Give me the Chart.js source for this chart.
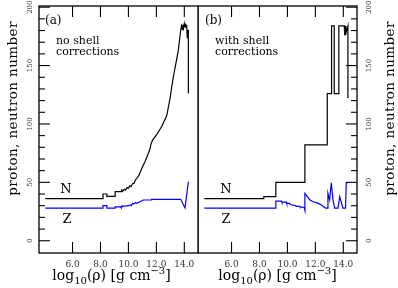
<!DOCTYPE html>
<html>
<head>
<meta charset="utf-8">
<script src="https://cdn.jsdelivr.net/npm/chart.js@4"></script>
<style>
  body { margin: 0; background: #fff; }
  #wrap { position: relative; width: 398px; height: 288px; overflow: hidden; }
  canvas { position: absolute; top: 0; }
</style>
</head>
<body>
<div id="wrap">
  <canvas id="panelA" width="199" height="288" style="left:0"></canvas>
  <canvas id="panelB" width="200" height="288" style="left:198px"></canvas>
</div>
<script>
// tick labels
const xTicks = [6, 8, 10, 12, 14];
const yTicks = [0, 50, 100, 150, 200];
const yMinorTicks = [10, 20, 30, 40, 60, 70, 80, 90, 110, 120, 130, 140, 160, 170, 180, 190];

// (a) no shell corrections
const rhoNa = [4.05, 8.18, 8.18, 8.46, 8.46, 9.05, 9.05, 9.5, 9.52, 9.6, 9.7, 9.8, 9.9, 10.0, 10.1, 10.2, 10.3, 10.4, 10.5, 10.6, 10.75, 10.96, 11.2, 11.4, 11.55, 11.62, 11.72, 12.03, 12.39, 12.74, 12.98, 13.21, 13.45, 13.57, 13.74, 13.8, 13.86, 13.9, 13.95, 14.0, 14.05, 14.1, 14.17, 14.21, 14.25, 14.29, 14.29];
const neutronA = [36, 36, 40, 40, 38, 38, 42, 42, 43.5, 42.5, 44, 43.5, 45.5, 45, 47, 46.5, 49, 49, 52, 53.5, 56, 62, 68, 74, 79, 83, 86, 91, 98, 107, 122, 140, 155, 163, 180, 184, 181, 185, 182, 186, 183, 185, 184, 174, 180, 180, 126];
const rhoZa = [4.05, 8.18, 8.18, 8.46, 8.46, 9.05, 9.05, 9.45, 9.5, 9.55, 9.6, 10.0, 10.12, 10.2, 10.3, 10.36, 10.5, 10.6, 10.83, 11.07, 11.66, 11.66, 13.74, 14.05, 14.29];
const protonA = [28, 28, 30, 30, 28, 28, 29, 29, 28, 30, 29.5, 30, 30.6, 30, 32, 31.5, 32.5, 32, 33.4, 34.9, 35, 35.5, 35.5, 28, 50.5];

// (b) with shell corrections
const rhoNb = [4.05, 8.31, 8.31, 9.17, 9.17, 11.25, 11.25, 12.85, 12.85, 13.16, 13.16, 13.35, 13.35, 13.68, 13.68, 14.07, 14.1, 14.13, 14.16, 14.19, 14.22, 14.33, 14.33];
const neutronB = [36, 36, 37.7, 37.7, 50, 50, 82, 82, 126, 126, 184, 184, 126, 126, 184, 184, 176, 184, 176, 184, 179, 184, 122];
const rhoZb = [4.05, 9.17, 9.17, 9.57, 9.6, 9.93, 9.95, 10.16, 10.2, 10.6, 10.62, 10.88, 10.9, 11.2, 11.25, 11.25, 11.35, 11.6, 11.83, 12.07, 12.2, 12.43, 12.54, 12.73, 12.88, 12.9, 13.02, 13.14, 13.26, 13.38, 13.62, 13.74, 13.97, 14.16, 14.21, 14.33];
const protonB = [28, 28, 34, 34, 33, 33, 32, 32, 31, 30, 29.5, 29.5, 29, 28.5, 26, 40.5, 39, 35, 33.4, 32.6, 32, 30.6, 29.5, 28, 28, 40.6, 35, 49.7, 35, 28, 28, 37.7, 28, 28, 49.7, 49.7];

const FONT = 'DejaVu Serif';
const pts = (xs, ys) => xs.map((x, i) => ({ x: x, y: ys[i] }));

function seg(ctx, x1, y1, x2, y2) {
  ctx.beginPath();
  ctx.moveTo(x1, y1);
  ctx.lineTo(x2, y2);
  ctx.stroke();
}

// log10(rho) [g cm^-3] with sub/superscripts
function drawXTitle(ctx, cx, base) {
  const parts = [
    { t: 'log', s: 14, dy: 0 },
    { t: '10', s: 10, dy: 3.5 },
    { t: '(\u03c1) [g cm', s: 14, dy: 0 },
    { t: '\u22123', s: 10, dy: -6 },
    { t: ']', s: 14, dy: 0 }
  ];
  let w = 0;
  parts.forEach(p => { ctx.font = p.s + 'px "' + FONT + '"'; p.w = ctx.measureText(p.t).width; w += p.w; });
  let x = cx - w / 2;
  ctx.textAlign = 'left';
  ctx.textBaseline = 'alphabetic';
  parts.forEach(p => {
    ctx.font = p.s + 'px "' + FONT + '"';
    ctx.fillText(p.t, x, base + p.dy);
    x += p.w;
  });
}

const framePlugin = {
  id: 'frame',
  afterDraw(chart, args, o) {
    const { ctx, chartArea: a } = chart;
    const x = chart.scales.x, y = chart.scales.y;
    ctx.save();
    ctx.strokeStyle = '#000';
    ctx.lineWidth = 1.3;
    ctx.strokeRect(a.left, a.top, a.right - a.left, a.bottom - a.top);

    // x ticks, inward at top and bottom
    ctx.lineWidth = 1.1;
    xTicks.forEach(v => {
      const px = x.getPixelForValue(v);
      seg(ctx, px, a.top, px, a.top + 11);
      seg(ctx, px, a.bottom, px, a.bottom - 11);
    });

    // y ticks on the outer side
    const ex = o.side === 'left' ? a.left : a.right;
    const dir = o.side === 'left' ? 1 : -1;
    yTicks.forEach(v => { const py = y.getPixelForValue(v); seg(ctx, ex, py, ex + dir * 11, py); });
    yMinorTicks.forEach(v => { const py = y.getPixelForValue(v); seg(ctx, ex, py, ex + dir * 6, py); });

    ctx.fillStyle = '#333';
    // x tick labels
    ctx.font = '9px "' + FONT + '"';
    ctx.textAlign = 'center';
    ctx.textBaseline = 'middle';
    xTicks.forEach(v => ctx.fillText(v.toFixed(1), x.getPixelForValue(v), 265));

    // y tick labels, rotated
    ctx.font = '7px "' + FONT + '"';
    yTicks.forEach(v => {
      ctx.save();
      ctx.translate(o.labelX, y.getPixelForValue(v));
      ctx.rotate(-Math.PI / 2);
      ctx.fillText(String(v), 0, 0);
      ctx.restore();
    });

    // y title
    ctx.fillStyle = '#000';
    ctx.save();
    ctx.translate(o.titleX, 108.5);
    ctx.rotate(-Math.PI / 2);
    ctx.font = '13.5px "' + FONT + '"';
    if ('letterSpacing' in ctx) ctx.letterSpacing = '0.4px';
    ctx.textAlign = 'center';
    ctx.textBaseline = 'middle';
    ctx.fillText('proton, neutron number', 0, 0);
    ctx.restore();

    // x title
    drawXTitle(ctx, o.xTitleX, 280);

    // notes inside the panel
    o.notes.forEach(n => {
      ctx.font = n.s + 'px "' + FONT + '"';
      ctx.textAlign = n.align || 'left';
      ctx.textBaseline = 'middle';
      ctx.fillText(n.t, n.x, n.y);
    });
    ctx.restore();
  }
};

function makePanel(id, nx, ny, zx, zy, pad, frameOpts) {
  return new Chart(document.getElementById(id), {
    type: 'line',
    data: {
      datasets: [
        { label: 'Z', data: pts(zx, zy), borderColor: '#0000ff', borderWidth: 1.2, pointRadius: 0, tension: 0, fill: false },
        { label: 'N', data: pts(nx, ny), borderColor: '#000000', borderWidth: 1.2, pointRadius: 0, tension: 0, fill: false }
      ]
    },
    options: {
      responsive: false,
      animation: false,
      layout: { padding: pad },
      plugins: {
        legend: { display: false },
        tooltip: { enabled: false },
        frame: frameOpts
      },
      scales: {
        x: { type: 'linear', min: 3.6, max: 14.98, display: false },
        y: { type: 'linear', min: -10.5, max: 201, display: false }
      }
    },
    plugins: [framePlugin]
  });
}

makePanel('panelA', rhoNa, neutronA, rhoZa, protonA,
  { left: 39, right: 1, top: 6, bottom: 35 },
  {
    side: 'left', labelX: 30.5, titleX: 13, xTitleX: 111.5,
    notes: [
      { t: '(a)', s: 12, x: 45, y: 21 },
      { t: 'no shell', s: 11, x: 56, y: 41 },
      { t: 'corrections', s: 11, x: 56, y: 52.5 },
      { t: 'N', s: 13, x: 66, y: 190, align: 'center' },
      { t: 'Z', s: 13, x: 67, y: 220, align: 'center' }
    ]
  });

makePanel('panelB', rhoNb, neutronB, rhoZb, protonB,
  { left: 0, right: 41, top: 6, bottom: 35 },
  {
    side: 'right', labelX: 171.3, titleX: 192, xTitleX: 79.5,
    notes: [
      { t: '(b)', s: 12, x: 7, y: 21 },
      { t: 'with shell', s: 11, x: 17, y: 41 },
      { t: 'corrections', s: 11, x: 17, y: 52.5 },
      { t: 'N', s: 13, x: 28, y: 189.5, align: 'center' },
      { t: 'Z', s: 13, x: 28, y: 219.5, align: 'center' }
    ]
  });
</script>
</body>
</html>
